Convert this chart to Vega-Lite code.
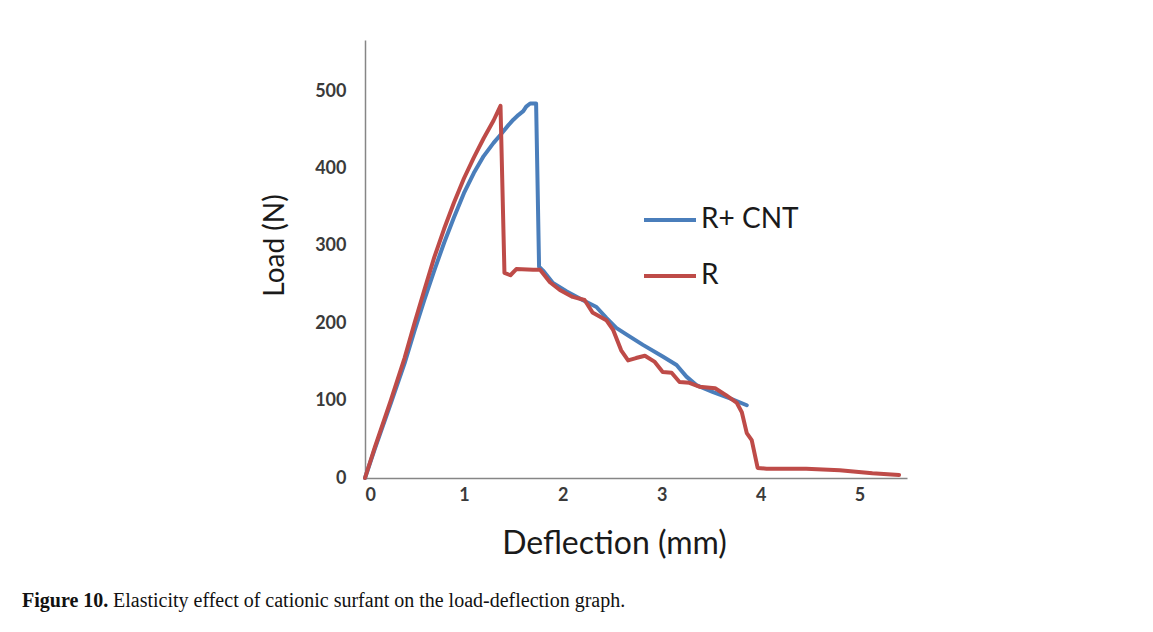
{
  "$schema": "https://vega.github.io/schema/vega-lite/v6.json",
  "background": "white",
  "padding": {"left": 22, "top": 40, "right": 5, "bottom": 5},
  "title": {"text": "Elasticity effect of cationic surfant on the load-deflection graph.", "orient": "bottom", "anchor": "start", "frame": "bounds", "dx": 91, "offset": -20, "font": "Liberation Serif", "fontSize": 20, "fontWeight": "normal", "color": "#111111"},
  "config": {"view": {"stroke": null}},
  "datasets": {
    "curves": [
      {"series": "R+ CNT", "d": 0, "load": 0},
      {"series": "R+ CNT", "d": 0.1, "load": 38},
      {"series": "R+ CNT", "d": 0.26, "load": 96},
      {"series": "R+ CNT", "d": 0.4, "load": 148},
      {"series": "R+ CNT", "d": 0.5, "load": 190},
      {"series": "R+ CNT", "d": 0.6, "load": 230},
      {"series": "R+ CNT", "d": 0.7, "load": 268},
      {"series": "R+ CNT", "d": 0.8, "load": 304},
      {"series": "R+ CNT", "d": 0.9, "load": 337},
      {"series": "R+ CNT", "d": 1.0, "load": 368},
      {"series": "R+ CNT", "d": 1.1, "load": 394},
      {"series": "R+ CNT", "d": 1.2, "load": 416},
      {"series": "R+ CNT", "d": 1.3, "load": 433},
      {"series": "R+ CNT", "d": 1.36, "load": 442},
      {"series": "R+ CNT", "d": 1.45, "load": 456},
      {"series": "R+ CNT", "d": 1.5, "load": 463},
      {"series": "R+ CNT", "d": 1.55, "load": 469},
      {"series": "R+ CNT", "d": 1.6, "load": 474},
      {"series": "R+ CNT", "d": 1.63, "load": 480},
      {"series": "R+ CNT", "d": 1.67, "load": 484},
      {"series": "R+ CNT", "d": 1.73, "load": 484},
      {"series": "R+ CNT", "d": 1.76, "load": 273},
      {"series": "R+ CNT", "d": 1.8, "load": 268},
      {"series": "R+ CNT", "d": 1.9, "load": 252},
      {"series": "R+ CNT", "d": 2.04, "load": 241},
      {"series": "R+ CNT", "d": 2.2, "load": 230},
      {"series": "R+ CNT", "d": 2.34, "load": 221},
      {"series": "R+ CNT", "d": 2.44, "load": 207},
      {"series": "R+ CNT", "d": 2.54, "load": 194},
      {"series": "R+ CNT", "d": 2.65, "load": 185},
      {"series": "R+ CNT", "d": 2.81, "load": 172},
      {"series": "R+ CNT", "d": 3.01, "load": 157},
      {"series": "R+ CNT", "d": 3.15, "load": 146},
      {"series": "R+ CNT", "d": 3.25, "load": 131},
      {"series": "R+ CNT", "d": 3.35, "load": 120},
      {"series": "R+ CNT", "d": 3.52, "load": 111},
      {"series": "R+ CNT", "d": 3.69, "load": 103},
      {"series": "R+ CNT", "d": 3.86, "load": 94},
      {"series": "R", "d": 0, "load": 0},
      {"series": "R", "d": 0.1, "load": 40},
      {"series": "R", "d": 0.26, "load": 100},
      {"series": "R", "d": 0.4, "load": 155},
      {"series": "R", "d": 0.5, "load": 200},
      {"series": "R", "d": 0.6, "load": 243},
      {"series": "R", "d": 0.7, "load": 285},
      {"series": "R", "d": 0.8, "load": 322},
      {"series": "R", "d": 0.9, "load": 356},
      {"series": "R", "d": 1.0, "load": 387},
      {"series": "R", "d": 1.1, "load": 414},
      {"series": "R", "d": 1.2, "load": 439},
      {"series": "R", "d": 1.3, "load": 462},
      {"series": "R", "d": 1.37, "load": 481},
      {"series": "R", "d": 1.41, "load": 265},
      {"series": "R", "d": 1.47, "load": 262},
      {"series": "R", "d": 1.53, "load": 270},
      {"series": "R", "d": 1.7, "load": 269},
      {"series": "R", "d": 1.77, "load": 269},
      {"series": "R", "d": 1.87, "load": 253},
      {"series": "R", "d": 1.97, "load": 243},
      {"series": "R", "d": 2.1, "load": 234},
      {"series": "R", "d": 2.22, "load": 230},
      {"series": "R", "d": 2.3, "load": 214},
      {"series": "R", "d": 2.44, "load": 204},
      {"series": "R", "d": 2.51, "load": 191},
      {"series": "R", "d": 2.59, "load": 165},
      {"series": "R", "d": 2.66, "load": 152},
      {"series": "R", "d": 2.74, "load": 155},
      {"series": "R", "d": 2.83, "load": 158},
      {"series": "R", "d": 2.93, "load": 150},
      {"series": "R", "d": 3.01, "load": 137},
      {"series": "R", "d": 3.1, "load": 136},
      {"series": "R", "d": 3.18, "load": 124},
      {"series": "R", "d": 3.28, "load": 123},
      {"series": "R", "d": 3.38, "load": 118},
      {"series": "R", "d": 3.54, "load": 116},
      {"series": "R", "d": 3.65, "load": 107},
      {"series": "R", "d": 3.76, "load": 97},
      {"series": "R", "d": 3.81, "load": 85},
      {"series": "R", "d": 3.86, "load": 58},
      {"series": "R", "d": 3.91, "load": 49},
      {"series": "R", "d": 3.97, "load": 13},
      {"series": "R", "d": 4.06, "load": 12},
      {"series": "R", "d": 4.46, "load": 12},
      {"series": "R", "d": 4.8, "load": 10},
      {"series": "R", "d": 5.13, "load": 6},
      {"series": "R", "d": 5.4, "load": 4}
    ]
  },
  "vconcat": [
    {
      "width": 542,
      "height": 438,
      "title": {"text": "Figure 10.", "orient": "bottom", "anchor": "start", "frame": "group", "dx": -343, "offset": 32, "font": "Liberation Serif", "fontSize": 20, "fontWeight": "bold", "color": "#111111"},
      "data": {"name": "curves"},
      "encoding": {
        "x": {"field": "d", "type": "quantitative", "scale": {"domain": [0, 5.48], "nice": false, "zero": false},
          "axis": {"values": [0, 1, 2, 3, 4, 5], "title": "Deflection (mm)", "grid": false, "ticks": false, "domainColor": "#868686", "domainWidth": 1.5, "labelFont": "Lato", "labelFontSize": 18, "labelFontWeight": "bold", "labelColor": "#3a3a3a", "labelPadding": 8, "titleFont": "Lato", "titleFontSize": 32, "titleFontWeight": "normal", "titleColor": "#1a1a1a", "titlePadding": 24, "titleX": 249}},
        "y": {"field": "load", "type": "quantitative", "scale": {"domain": [0, 566], "nice": false},
          "axis": {"values": [0, 100, 200, 300, 400, 500], "title": "Load (N)", "grid": false, "ticks": false, "domainColor": "#868686", "domainWidth": 1.5, "labelFont": "Lato", "labelFontSize": 18, "labelFontWeight": "bold", "labelColor": "#3a3a3a", "labelPadding": 19, "titleFont": "Lato", "titleFontSize": 28, "titleFontWeight": "normal", "titleColor": "#1a1a1a", "titlePadding": 25, "titleY": 205}},
        "color": {"field": "series", "type": "nominal", "scale": {"domain": ["R+ CNT", "R"], "range": ["#4a7ebb", "#be4b48"]},
          "legend": {"title": null, "orient": "none", "legendX": 277, "legendY": 152, "symbolType": "stroke", "symbolSize": 2704, "symbolStrokeWidth": 4, "labelFont": "Lato", "labelFontSize": 28, "labelColor": "#1a1a1a", "labelOffset": 3, "rowPadding": 14}}
      },
      "layer": [
        {"transform": [{"filter": "datum.series === 'R+ CNT'"}], "mark": {"type": "line", "strokeWidth": 4, "strokeJoin": "round", "strokeCap": "round"}},
        {"transform": [{"filter": "datum.series === 'R'"}], "mark": {"type": "line", "strokeWidth": 4, "strokeJoin": "round", "strokeCap": "round"}}
      ]
    }
  ]
}
